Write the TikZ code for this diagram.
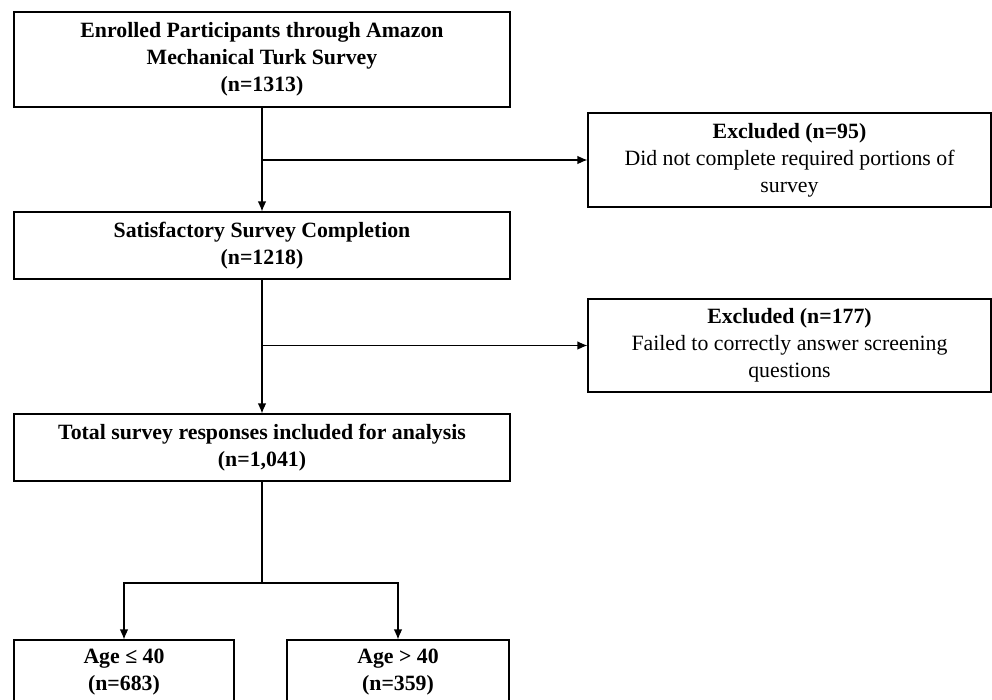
\documentclass[tikz,border=0pt]{standalone}
\usepackage{fontspec}
\setmainfont{Liberation Serif}
\usetikzlibrary{arrows.meta}

\begin{document}
\begin{tikzpicture}[x=1pt,y=-1pt,
    box/.style={draw,line width=1.1pt,rectangle,align=center,inner sep=2pt,font=\fontsize{21.8}{27}\selectfont},
    flow/.style={line width=1.1pt,-{Latex[length=10pt,width=8.5pt]}}]

      \useasboundingbox (0,0) rectangle (992,699);

      % main column
      \node[box,minimum width=496pt,minimum height=95pt] (enrolled) at (262,59.5) {\textbf{Enrolled Participants through Amazon}\\ \textbf{Mechanical Turk Survey}\\ \textbf{(n=1313)}};
      \node[box,minimum width=496pt,minimum height=67pt] (complete) at (262,245.5) {\textbf{Satisfactory Survey Completion}\\ \textbf{(n=1218)}};
      \node[box,minimum width=496pt,minimum height=67pt] (included) at (262,447.5) {\textbf{Total survey responses included for analysis}\\ \textbf{(n=1,041)}};

      % exclusions
      \node[box,minimum width=403pt,minimum height=94pt] (excl95) at (789.5,160) {\textbf{Excluded (n=95)}\\ Did not complete required portions of\\ survey};
      \node[box,minimum width=403pt,minimum height=93pt] (excl177) at (789.5,345.5) {\textbf{Excluded (n=177)}\\ Failed to correctly answer screening\\ questions};

      % age groups (cut off at the bottom)
      \node[box,minimum width=220pt,minimum height=64pt] (young) at (124,672) {\textbf{Age ≤ 40}\\ \textbf{(n=683)}};
      \node[box,minimum width=222pt,minimum height=64pt] (old) at (398,672) {\textbf{Age > 40}\\ \textbf{(n=359)}};

      \draw[flow] (enrolled.south) -- (complete.north);
      \draw[flow] (complete.south) -- (included.north);

      \coordinate (split95) at (enrolled.south |- excl95.west);
      \coordinate (split177) at (complete.south |- excl177.west);
      \draw[flow] (split95) -- (excl95.west);
      \draw[flow] (split177) -- (excl177.west);

      \coordinate (fork) at (262,583);
      \draw[line width=1.1pt] (included.south) -- (fork);
      \draw[flow] (fork) -| (young.north);
      \draw[flow] (fork) -| (old.north);

\end{tikzpicture}
\end{document}
